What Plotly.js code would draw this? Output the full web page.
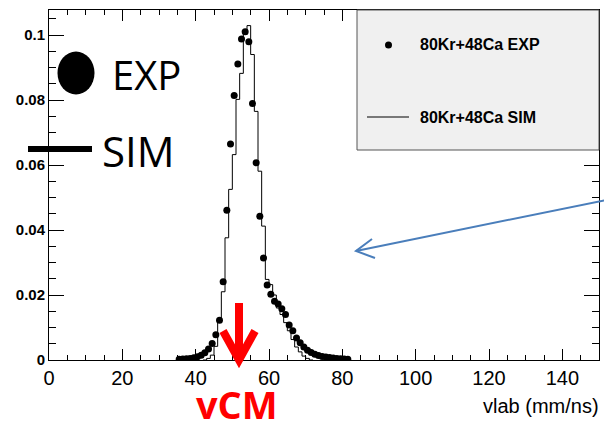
<!DOCTYPE html>
<html>
<head>
<meta charset="utf-8">
<script src="https://cdn.plot.ly/plotly-3.0.1.min.js"></script>
<style>html,body{margin:0;padding:0;background:#fff;}#chart{width:604px;height:421px;}</style>
</head>
<body>
<div id="chart"></div>
<script>
// EXP data: bin centers (mm/ns) and normalized counts
const expX = [35.5,36.5,37.5,38.5,39.5,40.5,41.5,42.5,43.5,44.5,45.5,46.5,47.5,48.5,49.5,50.5,51.5,52.5,53.5,54.5,55.5,56.5,57.5,58.5,59.5,60.5,61.5,62.5,63.5,64.5,65.5,66.5,67.5,68.5,69.5,70.5,71.5,72.5,73.5,74.5,75.5,76.5,77.5,78.5,79.5,80.5,81.5];
const expY = [0.0002,0.0003,0.0004,0.0005,0.0007,0.0010,0.0015,0.0022,0.0034,0.0051,0.0078,0.0122,0.0241,0.0461,0.0665,0.0814,0.0911,0.0988,0.1010,0.0979,0.0789,0.0607,0.0442,0.0314,0.0231,0.0202,0.0181,0.0172,0.0158,0.0140,0.0108,0.0090,0.0068,0.0053,0.0040,0.0030,0.0023,0.0018,0.0014,0.0011,0.0009,0.0008,0.0006,0.0005,0.0004,0.0003,0.0002];
// SIM histogram: bin left edges and contents
const simEdges = [42,43,44,45,46,47,48,49,50,51,52,53,54,55,56,57,58,59,60,61,62,63,64,65,66,67,68,69,70,71,72];
const simY = [0,0.0005,0.0015,0.0042,0.0119,0.0210,0.0376,0.0525,0.0632,0.0802,0.0882,0.1002,0.1029,0.0940,0.0765,0.0581,0.0412,0.0248,0.0232,0.0200,0.0160,0.0140,0.0115,0.0090,0.0063,0.0040,0.0025,0.0012,0.0005,0,0];
const legendLabels = ["80Kr+48Ca EXP","80Kr+48Ca SIM"];
const xTitle = "vlab (mm/ns)";

// pixel -> paper helpers (plot area: x 49..599, y 10..360)
const L=49, T=10, W=550, H=350;
const px = x => (x - L) / W;
const py = y => (T + H - y) / H;

const traces = [
  {x: simEdges, y: simY, type:'scatter', mode:'lines', line:{shape:'hv', color:'black', width:1}, hoverinfo:'skip'},
  {x: expX, y: expY, type:'scatter', mode:'markers', marker:{color:'black', size:7}, hoverinfo:'skip'}
];

const axisCommon = {
  showgrid:false, zeroline:false, showline:true, linecolor:'black', linewidth:1,
  mirror:'ticks', ticks:'inside', tickcolor:'black'
};

const layout = {
  width:604, height:421,
  margin:{l:L, r:604-L-W, t:T, b:421-T-H},
  paper_bgcolor:'white', plot_bgcolor:'white',
  showlegend:false,
  xaxis: Object.assign({}, axisCommon, {
    range:[0,150], dtick:20, tick0:0, ticklen:11,
    minor:{dtick:5, ticklen:5, ticks:'inside', tickcolor:'black'},
    tickfont:{family:'Liberation Sans, Arial', size:20, color:'black'}
  }),
  yaxis: Object.assign({}, axisCommon, {
    range:[0,0.1077], dtick:0.02, tick0:0, ticklen:15,
    minor:{dtick:0.005, ticklen:7, ticks:'inside', tickcolor:'black'},
    tickfont:{family:'Liberation Sans, Arial', size:15, color:'black', weight:'bold'}
  }),
  shapes: [
    // legend box
    {type:'rect', xref:'paper', yref:'paper', x0:px(357), x1:px(599), y0:py(150), y1:py(10), fillcolor:'#f0f0f0', line:{color:'#555', width:1}, layer:'above'},
    {type:'circle', xref:'paper', yref:'paper', x0:px(385), x1:px(392), y0:py(48.5), y1:py(41.5), fillcolor:'black', line:{width:0}, layer:'above'},
    {type:'line', xref:'paper', yref:'paper', x0:px(367), x1:px(409), y0:py(117), y1:py(117), line:{color:'black', width:1}, layer:'above'},
    // big EXP marker and SIM line
    {type:'circle', xref:'paper', yref:'paper', x0:px(57.5), x1:px(94.5), y0:py(94.5), y1:py(51.5), fillcolor:'black', line:{width:0}, layer:'above'},
    {type:'line', xref:'paper', yref:'paper', x0:px(28), x1:px(92), y0:py(149), y1:py(149), line:{color:'black', width:6}, layer:'above'},
    // red arrow (vCM)
    {type:'line', xref:'paper', yref:'paper', x0:px(239), x1:px(239), y0:py(303), y1:py(356), line:{color:'#ff0000', width:8}, layer:'above'},
    {type:'path', xref:'paper', yref:'paper', path:'M '+px(223)+','+py(331)+' L '+px(239)+','+py(360)+' L '+px(255)+','+py(331), line:{color:'#ff0000', width:8}, layer:'above'},
    // blue pointer arrow
    {type:'line', xref:'paper', yref:'paper', x0:px(606), x1:px(356), y0:py(200), y1:py(251), line:{color:'#4a7ebb', width:2}, layer:'above'},
    {type:'path', xref:'paper', yref:'paper', path:'M '+px(372)+','+py(239)+' L '+px(356)+','+py(251)+' L '+px(375)+','+py(258), line:{color:'#4a7ebb', width:2}, layer:'above'}
  ],
  annotations: [
    {xref:'paper', yref:'paper', x:px(418), y:py(45), xanchor:'left', yanchor:'middle', text:legendLabels[0], showarrow:false, font:{family:'Liberation Sans, Arial', size:16, color:'black', weight:'bold'}},
    {xref:'paper', yref:'paper', x:px(418), y:py(117), xanchor:'left', yanchor:'middle', text:legendLabels[1], showarrow:false, font:{family:'Liberation Sans, Arial', size:16, color:'black', weight:'bold'}},
    {xref:'paper', yref:'paper', x:px(110), y:py(74), xanchor:'left', yanchor:'middle', text:'EXP', showarrow:false, font:{family:'Open Sans', size:40, color:'black'}},
    {xref:'paper', yref:'paper', x:px(100), y:py(150), xanchor:'left', yanchor:'middle', text:'SIM', showarrow:false, font:{family:'Open Sans', size:42, color:'black'}},
    {xref:'paper', yref:'paper', x:px(237), y:py(404), xanchor:'center', yanchor:'middle', text:'vCM', showarrow:false, font:{family:'Open Sans', size:38, color:'#ff0000', weight:'bold'}},
    {xref:'paper', yref:'paper', x:px(601), y:py(406), xanchor:'right', yanchor:'middle', text:xTitle, showarrow:false, font:{family:'Liberation Sans, Arial', size:20, color:'black'}}
  ]
};

Plotly.newPlot('chart', traces, layout, {staticPlot:true, displayModeBar:false});
</script>
</body>
</html>
